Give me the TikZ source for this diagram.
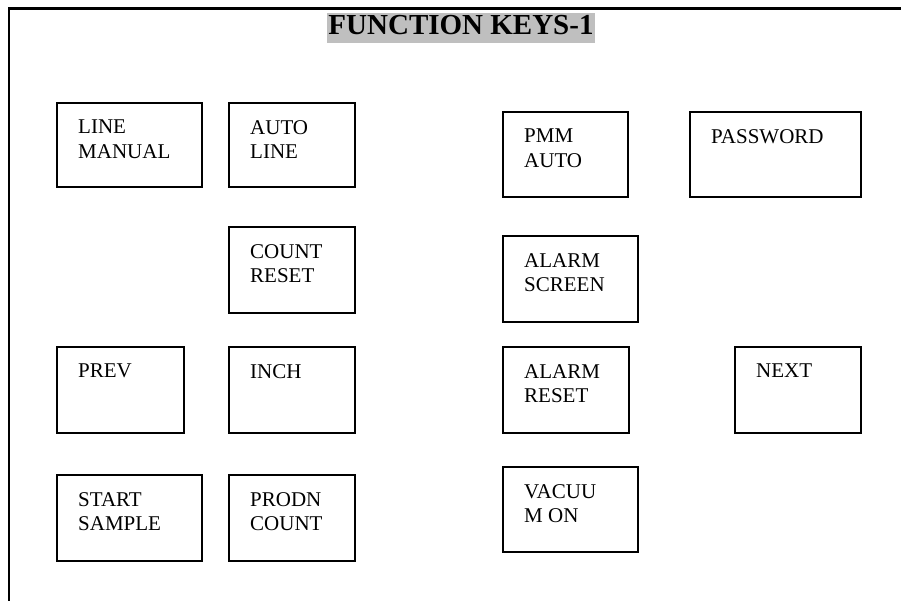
\documentclass[tikz,border=0pt]{standalone}
\usepackage{fontspec}
\setmainfont{Liberation Serif}
\begin{document}
\begin{tikzpicture}[x=1pt,y=-1pt,
  frameline/.style={line width=2.2pt,line cap=rect},
  keybox/.style={draw,line width=2pt,rectangle,inner sep=0pt,outer sep=0pt},
  keytext/.style={anchor=north west,inner sep=0pt,align=left,
    font=\fontsize{21}{24.5}\selectfont},
  titlebox/.style={fill=black!25,inner xsep=1pt,inner ysep=0pt,
    text height=22pt,text depth=8pt,font=\fontsize{29}{30}\selectfont\bfseries}]
\useasboundingbox (0,0) rectangle (901,601);

% page frame: left and top rules
\draw[frameline] (9,601) -- (9,8.5) -- (901,8.5);

% heading
\node[titlebox] (title) at (461,28) {FUNCTION KEYS-1};

% one key: name, left, top, right, bottom, label
\newcommand{\fkey}[6]{%
  \node[keybox,minimum width={#4-#2},minimum height={#5-#3}]
    (#1) at ({(#2+#4)/2},{(#3+#5)/2}) {};
  \node[keytext] (#1-t) at ([xshift=21pt,yshift=-17pt]#1.north west) {#6};}

% left block
\fkey{linemanual}{57}{103}{202}{187}{LINE\\MANUAL}
\fkey{autoline}{229}{103}{355}{187}{AUTO\\LINE}
\fkey{countreset}{229}{227}{355}{313}{COUNT\\RESET}
\fkey{prev}{57}{347}{184}{433}{PREV}
\fkey{inch}{229}{347}{355}{433}{INCH}
\fkey{startsample}{57}{475}{202}{561}{START\\SAMPLE}
\fkey{prodncount}{229}{475}{355}{561}{PRODN\\COUNT}

% right block
\fkey{pmmauto}{503}{112}{628}{197}{PMM\\AUTO}
\fkey{password}{690}{112}{861}{197}{PASSWORD}
\fkey{alarmscreen}{503}{236}{638}{322}{ALARM\\SCREEN}
\fkey{alarmreset}{503}{347}{629}{433}{ALARM\\RESET}
\fkey{next}{735}{347}{861}{433}{NEXT}
\fkey{vacuumon}{503}{467}{638}{552}{VACUU\\M ON}
\end{tikzpicture}
\end{document}
